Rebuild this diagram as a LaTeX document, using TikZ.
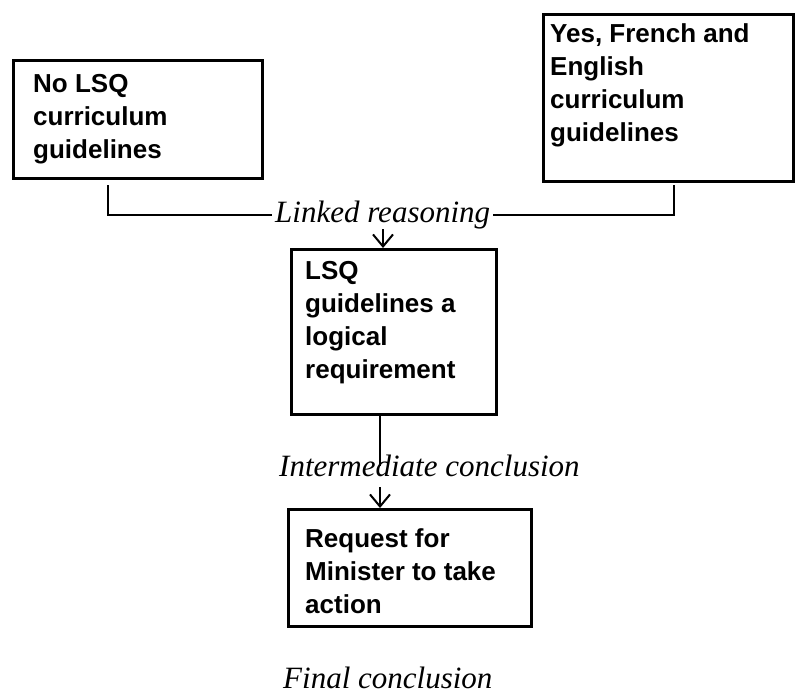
\documentclass[tikz,border=0pt]{standalone}
\usepackage{fontspec}
\setmainfont{Liberation Serif}
\newfontfamily\boxfont{Liberation Sans}
\usetikzlibrary{arrows.meta}
\begin{document}
\begin{tikzpicture}[x=1pt,y=-1pt,
  frame/.style={draw, line width=2.6pt, inner sep=0pt, anchor=north west},
  boxtext/.style={inner sep=0pt, anchor=north west, align=left,
    font=\boxfont\bfseries\fontsize{26}{33}\selectfont},
  caption/.style={font=\itshape\fontsize{31}{37}\selectfont,
    inner xsep=3pt, inner ysep=0pt, anchor=base west},
  link/.style={line width=2pt},
  arr/.style={line width=2pt, -{Straight Barb[length=12pt,width=20pt]}}]

\useasboundingbox (0,0) rectangle (795,696);

% boxes
\node[frame, minimum width=249pt, minimum height=118pt] (left) at (12,59) {};
\node[frame, minimum width=250pt, minimum height=167pt] (right) at (542,13) {};
\node[frame, minimum width=205pt, minimum height=165pt] (mid) at (290,248) {};
\node[frame, minimum width=243pt, minimum height=117pt] (concl) at (287,508) {};

% box texts
\node[boxtext] (lefttxt) at (33,74) {No LSQ\\curriculum\\guidelines};
\node[boxtext] (righttxt) at (550,23) {Yes, French and\\English\\curriculum\\guidelines};
\node[boxtext] (midtxt) at (305,261) {LSQ\\guidelines a\\logical\\requirement};
\node[boxtext] (concltxt) at (305,528) {Request for\\Minister to take\\action};

% captions
\node[caption] (linked) at (272,222) {Linked reasoning};
\node[caption] (inter) at (276,476) {Intermediate conclusion};
\node[caption] (final) at (280,688) {Final conclusion};

% connectors
\coordinate (lfoot) at (108,185);
\coordinate (rfoot) at (674,185);
\draw[link] (lfoot) |- (linked.west);
\draw[link] (linked.east) -| (rfoot);
\coordinate (a1) at (383,229);
\draw[arr] (a1) -- (a1 |- mid.north);
\coordinate (m1) at (380,466);
\draw[link] (m1 |- mid.south) -- (m1);
\coordinate (a2) at (380,487);
\draw[arr] (a2) -- (a2 |- concl.north);
\end{tikzpicture}
\end{document}
